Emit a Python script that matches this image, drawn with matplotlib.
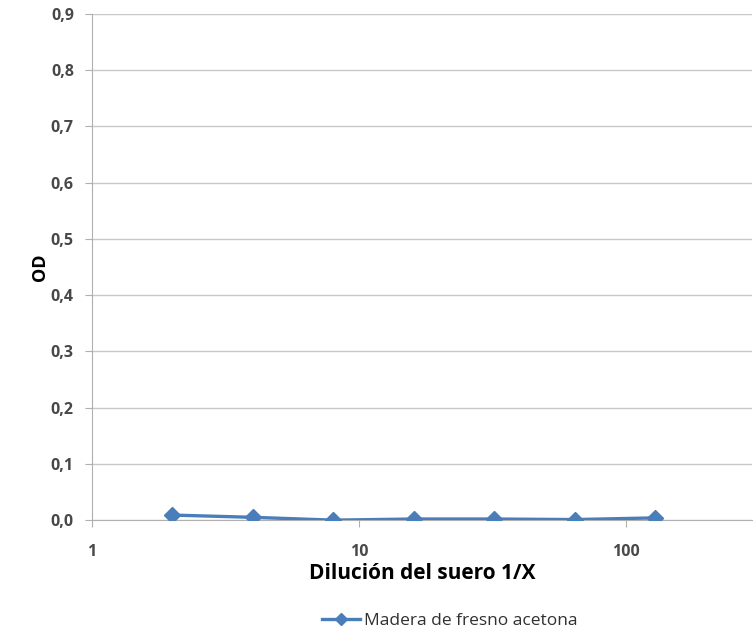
import numpy as np
import matplotlib.pyplot as plt
from matplotlib.ticker import FixedLocator, FuncFormatter, NullLocator

# data
dilution = [2, 4, 8, 16, 32, 64, 128]
od = [0.009, 0.005, 0.000, 0.002, 0.002, 0.001, 0.004]
series_name = 'Madera de fresno acetona'
y_ticks = [0.0, 0.1, 0.2, 0.3, 0.4, 0.5, 0.6, 0.7, 0.8, 0.9]
x_ticks = [1, 10, 100]

plt.rcParams['font.family'] = ['Open Sans', 'DejaVu Sans']

fig = plt.figure(figsize=(7.53, 6.32), dpi=100)
ax = fig.add_axes([0.122, 0.177, 0.877, 0.801])

ax.plot(dilution, od, color='#4A7EBB', lw=2.4, marker='D', ms=8,
        label=series_name, zorder=3)

ax.set_xscale('log')
ax.set_xlim(1, 296)
ax.set_ylim(0, 0.9)
ax.xaxis.set_major_locator(FixedLocator(x_ticks))
ax.xaxis.set_minor_locator(NullLocator())
ax.xaxis.set_major_formatter(FuncFormatter(lambda v, p: f'{v:g}'))
ax.set_yticks(y_ticks)
ax.yaxis.set_major_formatter(FuncFormatter(lambda v, p: f'{v:.1f}'.replace('.', ',')))

ax.grid(axis='y', color='#C8C8C8', lw=1)
ax.set_axisbelow(True)
for s in ['top', 'right']:
    ax.spines[s].set_visible(False)
for s in ['left', 'bottom']:
    ax.spines[s].set_color('#B0B0B0')
ax.tick_params(axis='both', colors='#B0B0B0', length=5, labelcolor='#484848',
               labelsize=11.5)
ax.tick_params(axis='x', pad=12)
ax.tick_params(axis='y', pad=8)
for lab in ax.get_xticklabels() + ax.get_yticklabels():
    lab.set_fontweight('bold')

ax.set_ylabel('OD', fontsize=13, fontweight='bold', labelpad=1)
ax.set_xlabel('Dilución del suero 1/X', fontsize=15, fontweight='bold', labelpad=2)

fig.legend(loc='center', bbox_to_anchor=(0.597, 0.017), frameon=False,
           fontsize=12.5, handlelength=2.2, handletextpad=0.2, markerscale=0.8,
           labelcolor='#303030')

fig.savefig('out.png', dpi=100)
